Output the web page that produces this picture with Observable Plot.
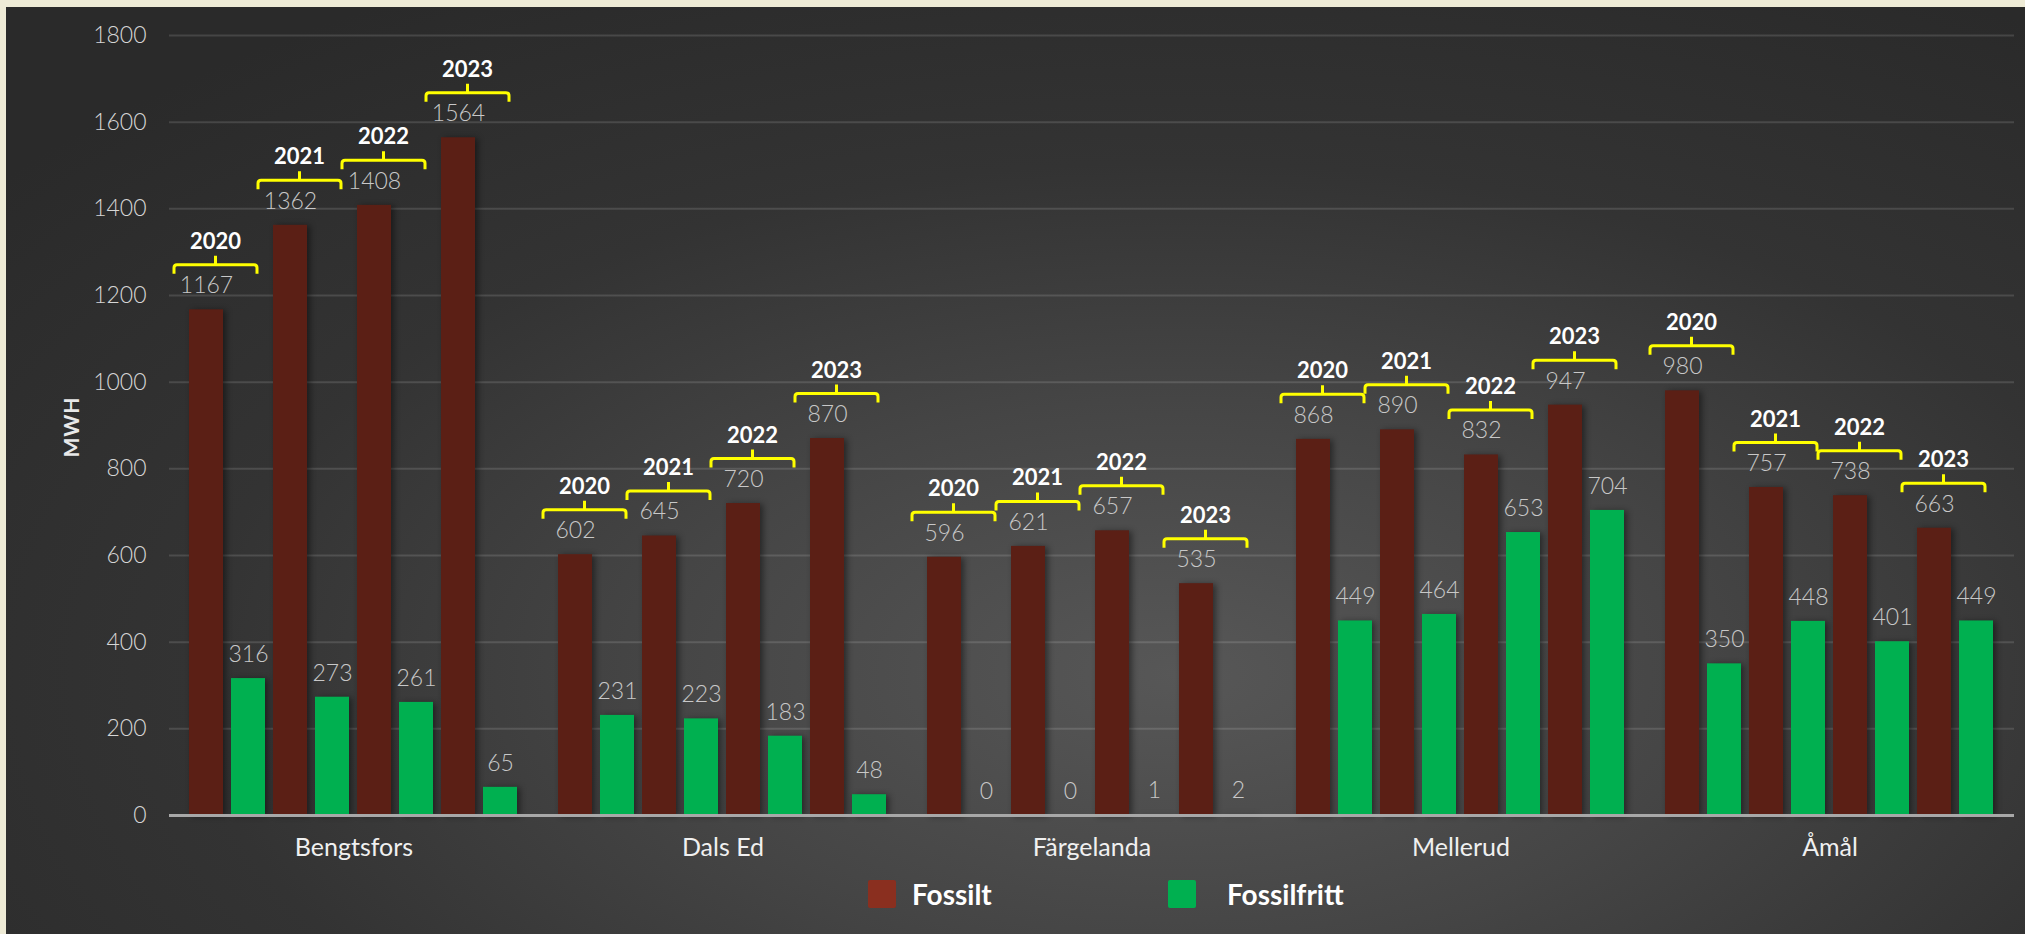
<!DOCTYPE html>
<html>
<head>
<meta charset="utf-8">
<script src="https://cdn.jsdelivr.net/npm/d3@7"></script>
<script src="https://cdn.jsdelivr.net/npm/@observablehq/plot@0.6"></script>
<style>
  html, body { margin: 0; padding: 0; }
  body { width: 2025px; height: 934px; background: #eeebd6; position: relative; overflow: hidden; font-family: Lato, "Open Sans", sans-serif; }
  #panel { position: absolute; left: 6px; top: 7px; width: 2019px; height: 927px;
    background: radial-gradient(ellipse 75% 85% at 58% 72%, #575757 0%, #454545 35%, #333333 65%, #2a2a2a 100%); }
  #chart { position: absolute; left: 0; top: 0; }
  #ylabel { position: absolute; left: 70px; top: 427px; transform: translate(-50%, -50%) rotate(-90deg);
    color: #e8e8e8; font-weight: bold; font-size: 21px; letter-spacing: 1px; }
  .leg { position: absolute; display: flex; align-items: center; }
  .sw { width: 28px; height: 28px; border-radius: 2px; }
  .lt { color: #ffffff; font-weight: bold; font-size: 28px; margin-left: 16px; }
</style>
</head>
<body>
<div id="panel"></div>
<div id="chart"></div>
<div id="ylabel">MWH</div>
<div class="leg" style="left:868px; top:877px;"><div class="sw" style="background:#8a2f1f"></div><div class="lt">Fossilt</div></div>
<div class="leg" style="left:1168px; top:877px;"><div class="sw" style="background:#00b050"></div><div class="lt" style="margin-left:31px">Fossilfritt</div></div>
<script>
const municipalities = ["Bengtsfors", "Dals Ed", "Färgelanda", "Mellerud", "Åmål"];
const years = ["2020", "2021", "2022", "2023"];
const types = ["Fossilt", "Fossilfritt"];
const fossilt = [
  [1167, 1362, 1408, 1564],
  [602, 645, 720, 870],
  [596, 621, 657, 535],
  [868, 890, 832, 947],
  [980, 757, 738, 663]
];
const fossilfritt = [
  [316, 273, 261, 65],
  [231, 223, 183, 48],
  [0, 0, 1, 2],
  [449, 464, 653, 704],
  [350, 448, 401, 449]
];
const yTicks = [0, 200, 400, 600, 800, 1000, 1200, 1400, 1600, 1800];

const rows = [];
municipalities.forEach((m, i) => {
  years.forEach((yr, j) => {
    rows.push({kommun: m, year: yr, typ: "Fossilt", key: yr + "-Fossilt", value: fossilt[i][j]});
    rows.push({kommun: m, year: yr, typ: "Fossilfritt", key: yr + "-Fossilfritt", value: fossilfritt[i][j]});
  });
});
const keys = [];
years.forEach(yr => types.forEach(t => keys.push(yr + "-" + t)));
const fossilRows = rows.filter(d => d.typ === "Fossilt");

const bracket = {
  draw(ctx) {
    const w = 41.5, h = 9, r = 3;
    ctx.moveTo(-w, h);
    ctx.lineTo(-w, r);
    ctx.quadraticCurveTo(-w, 0, -w + r, 0);
    ctx.lineTo(w - r, 0);
    ctx.quadraticCurveTo(w, 0, w, r);
    ctx.lineTo(w, h);
    ctx.moveTo(0, 0);
    ctx.lineTo(0, -9);
  }
};

const chart = Plot.plot({
  width: 2025,
  height: 870,
  marginLeft: 168,
  marginRight: 11,
  marginTop: 35,
  marginBottom: 55,
  style: {background: "transparent", fontFamily: "Lato, 'Open Sans', sans-serif", overflow: "visible"},
  fx: {domain: municipalities, padding: 0, label: null},
  x: {domain: keys, paddingInner: 0.184, paddingOuter: 0.4, axis: null},
  y: {domain: [0, 1800], label: null},
  color: {domain: types, range: ["#5b1f15", "#00b050"]},
  marks: [
    Plot.ruleY(yTicks.filter(d => d > 0), {stroke: "#ffffff", strokeOpacity: 0.13, strokeWidth: 2}),
    Plot.axisY({ticks: yTicks, tickFormat: d => String(d), tickSize: 0, tickPadding: 23, fontSize: 23, fill: "#d6d6d6", label: null, fontWeight: 300}),
    Plot.axisFx({anchor: "bottom", tickSize: 0, tickPadding: 23, fontSize: 25, fill: "#f0f0f0", label: null}),
    Plot.barY(rows, {fx: "kommun", x: "key", y: "value", fill: "typ"}),
    Plot.ruleY([0], {stroke: "#a8a8a8", strokeWidth: 3}),
    Plot.text(rows, {fx: "kommun", x: "key", y: "value", text: d => String(d.value), dy: -24, fontSize: 23, fill: "#c8c8c8", fontWeight: 300}),
    Plot.dot(fossilRows, {fx: "kommun", x: "key", y: "value", dx: 9, dy: -45, symbol: bracket, r: 4, stroke: "#ffff00", strokeWidth: 3, fill: "none"}),
    Plot.text(fossilRows, {fx: "kommun", x: "key", y: "value", text: "year", dx: 9, dy: -68, fontSize: 22, fontWeight: "bold", fill: "#ffffff"})
  ]
});
d3.select(chart).selectAll("g[aria-label='bar'] rect").style("filter", "drop-shadow(3px 1px 3px rgba(0,0,0,0.45))");
document.getElementById("chart").appendChild(chart);
</script>
</body>
</html>
